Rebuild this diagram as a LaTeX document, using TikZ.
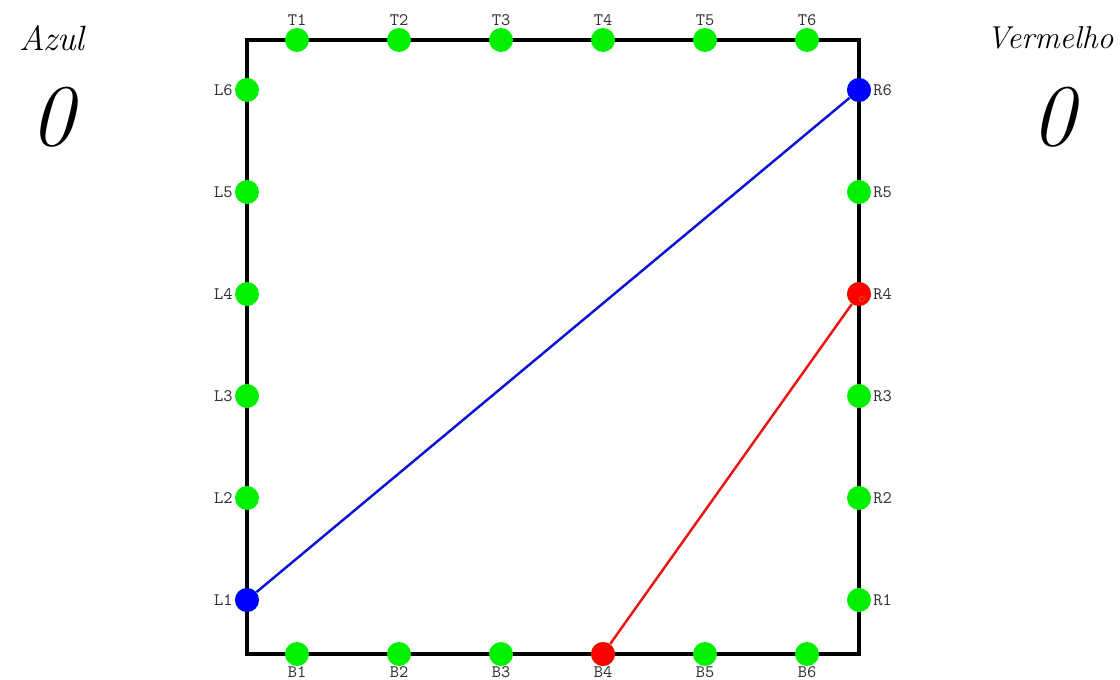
\documentclass[tikz,border=0pt]{standalone}
\usepackage{fontspec}
\usetikzlibrary{positioning}
\definecolor{dotgreen}{RGB}{0,240,0}
\definecolor{lineblue}{RGB}{10,20,210}
\definecolor{linered}{RGB}{235,20,20}
\tikzset{
  dot/.style={circle, inner sep=0pt, minimum size=0.48cm, fill=dotgreen},
  lbl/.style={font=\ttfamily\fontsize{10}{11}\selectfont, text=black!80, inner sep=1pt},
  score/.style={font=\itshape\fontsize{20}{22}\selectfont},
  pts/.style={font=\itshape\fontsize{50}{54}\selectfont},
}
\begin{document}
\begin{tikzpicture}[x=0.02cm, y=-0.02cm]
            \useasboundingbox (0,0) rectangle (1120,680);

            \coordinate (TL) at (247,40);
            \coordinate (BR) at (859,654);
            \draw[line width=1.8pt] (TL) rectangle (BR);

            \foreach \i in {1,...,6} {
                \node[dot] (T\i) at (195+102*\i,40) {};
                \node[dot] (B\i) at (195+102*\i,654) {};
                \node[dot] (L\i) at (247,702-102*\i) {};
                \node[dot] (R\i) at (859,702-102*\i) {};
                \node[lbl, anchor=south] at (T\i.north) {T\i};
                \node[lbl, anchor=north, inner sep=0pt] at (B\i.south) {B\i};
                \node[lbl, anchor=east] at (L\i.west) {L\i};
                \node[lbl, anchor=west] at (R\i.east) {R\i};
            }

            \node[dot, fill=blue] at (L1) {};
            \node[dot, fill=blue] at (R6) {};
            \node[dot, fill=red] at (R4) {};
            \node[dot, fill=red] at (B4) {};
            \draw[orange!80!black, line width=0.4pt] (862,299) circle (2.5);

            \draw[lineblue, line width=1.4pt] (L1) -- (R6);
            \draw[linered, line width=1.4pt] (B4) -- (R4);

            \node[score] (azul) at (52,38) {Azul};
            \node[pts] (azulpts) at (52,117) {0};
            \node[score, font=\itshape\fontsize{18}{20}\selectfont] (verm) at (1050,38) {Vermelho};
            \node[pts] (vermpts) at (1053,117) {0};
        \end{tikzpicture}
\end{document}
